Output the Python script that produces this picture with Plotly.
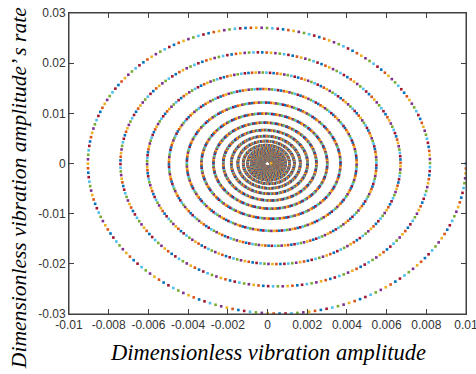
import numpy as np
import plotly.graph_objects as go

# Values (damped oscillator phase trajectory)
x_start = 0.01          # initial dimensionless amplitude (right edge)
v_start = 0.0           # initial rate
omega_n = 3.1416        # natural frequency (rate/amplitude ratio ~3)
sigma = 0.1             # decay rate: amplitude 0.01 -> ~0.009 after half cycle
time_step = 0.01        # ~200 dots per revolution
n_steps = 4000          # spiral ends in the small hole at the centre

matlab_colors = ["#0072BD", "#D95319", "#EDB120", "#7E2F8E",
                 "#77AC30", "#4DBEEE", "#A2142F"]

x_tick_vals = [-0.01, -0.008, -0.006, -0.004, -0.002, 0, 0.002, 0.004, 0.006, 0.008, 0.01]
x_tick_text = ["-0.01", "-0.008", "-0.006", "-0.004", "-0.002", "0",
               "0.002", "0.004", "0.006", "0.008", "0.01"]
y_tick_vals = [-0.03, -0.02, -0.01, 0, 0.01, 0.02, 0.03]
y_tick_text = ["-0.03", "-0.02", "-0.01", "0", "0.01", "0.02", "0.03"]

# closed-form solution of x'' + 2*sigma*x' + omega_n^2 x = 0
t = np.arange(n_steps) * time_step
wd = np.sqrt(omega_n**2 - sigma**2)
A = x_start
B = (v_start + sigma * x_start) / wd
env = np.exp(-sigma * t)
osc = A * np.cos(wd * t) + B * np.sin(wd * t)
amp = env * osc
rate = env * (-sigma * osc + (-A * wd * np.sin(wd * t) + B * wd * np.cos(wd * t)))
colors = [matlab_colors[i % len(matlab_colors)] for i in range(n_steps)]

fig = go.Figure(go.Scatter(
    x=amp, y=rate, mode="markers",
    marker=dict(symbol="square", size=2.6, color=colors, line=dict(width=0)),
    hoverinfo="skip"))

axis_common = dict(showgrid=False, zeroline=False, showline=True, linecolor="#404040",
                   linewidth=1, mirror="ticks", ticks="inside", ticklen=5,
                   tickcolor="#404040", ticklabeloverflow="allow",
                   tickfont=dict(family="Liberation Sans", size=12, color="#333333"))
fig.update_xaxes(range=[-0.01, 0.01], tickvals=x_tick_vals, ticktext=x_tick_text, **axis_common)
fig.update_yaxes(range=[-0.03, 0.03], tickvals=y_tick_vals, ticktext=y_tick_text, **axis_common)

fig.update_layout(
    width=476, height=374,
    margin=dict(l=69, r=10, t=13, b=60, autoexpand=False),
    paper_bgcolor="white", plot_bgcolor="white",
    showlegend=False,
    shapes=[dict(type="rect", xref="paper", yref="paper", x0=0, y0=0, x1=1, y1=1,
                 line=dict(color="#404040", width=1), layer="above")],
    annotations=[
        dict(text="<i>Dimensionless vibration amplitude</i>", xref="paper", yref="paper",
             x=0.501, y=0, yanchor="middle", xanchor="center", yshift=-38,
             showarrow=False, font=dict(family="Liberation Serif", size=22.5, color="#000000")),
        dict(text="<i>Dimensionless vibration amplitude’ s rate</i>", xref="paper", yref="paper",
             x=0, y=0.418, xanchor="center", yanchor="middle", xshift=-50, textangle=-90,
             showarrow=False, font=dict(family="Liberation Serif", size=21.6, color="#000000")),
    ],
)

fig.write_html("out.html", config={"displayModeBar": False},
               post_script="document.body.style.margin='0';document.body.style.overflow='hidden';")
